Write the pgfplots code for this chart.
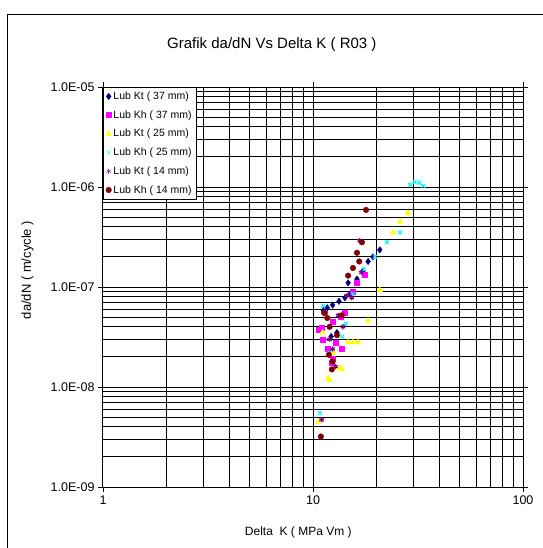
\documentclass[border=0pt]{standalone}
\usepackage{fontspec}
\setmainfont{Liberation Sans}
\usepackage{pgfplots}
\pgfplotsset{compat=1.18}

\definecolor{xlnavy}{RGB}{0,0,128}
\definecolor{xlmag}{RGB}{255,0,255}
\definecolor{xlyel}{RGB}{255,255,0}
\definecolor{xlcyan}{RGB}{0,255,255}
\definecolor{xlpurp}{RGB}{128,0,128}
\definecolor{xlred}{RGB}{128,0,0}

\begin{document}
\begin{tikzpicture}[x=1pt,y=1pt]
\path[use as bounding box] (-103,-61) rectangle (439,487);
\draw[line width=1pt] (-95,-80) rectangle (460,472);
\begin{axis}[
    at={(0,0)}, anchor=south west,
    scale only axis,
    width=420pt, height=400pt,
    xmode=log, ymode=log,
    xmin=1, xmax=100, ymin=1e-9, ymax=1e-5,
    xtick={1,10,100}, xticklabels={1,10,100},
    ytick={1e-9,1e-8,1e-7,1e-6,1e-5},
    yticklabels={1.0E-09,1.0E-08,1.0E-07,1.0E-06,1.0E-05},
    /pgf/number format/assume math mode=true,
    ticklabel style={font=\fontsize{12.5}{14}\selectfont},
    tick align=outside, major tick length=5pt, minor tick length=0pt,
    tick style={black, line width=0.8pt},
    grid=both,
    major grid style={black, line width=1pt},
    minor grid style={black, line width=1pt},
    axis line style={black, line width=1pt},
    title={Grafik da/dN Vs Delta K ( R03 )},
    title style={at={(rel axis cs:0.402,1.09)}, anchor=center, font=\fontsize{15}{17}\selectfont},
    xlabel={Delta\ \ K ( MPa Vm )},
    xlabel style={at={(rel axis cs:0.465,-0.1125)}, anchor=center, font=\fontsize{12}{14}\selectfont},
    ylabel={da/dN ( m/cycle )},
    ylabel style={at={(rel axis cs:-0.18,0.5425)}, anchor=center, rotate=0, font=\fontsize{13}{15}\selectfont},
    legend style={at={(0,1)}, anchor=north west, draw=black, line width=0.8pt, fill=white,
        font=\fontsize{10.5}{12}\selectfont, row sep=5.6pt, inner sep=2.5pt},
    legend cell align=left,
    legend image post style={line width=0.4pt},
]
% Lub Kt (37 mm)
\addplot[only marks, mark=diamond*, mark size=3.2pt, color=xlnavy] coordinates {
(20.8,2.35e-7) (19.3,2.0e-7) (18.3,1.8e-7) (17.3,1.45e-7) (16.2,1.2e-7) (14.7,1.1e-7)
(14.2,7.8e-8) (13.3,7.2e-8) (12.4,6.6e-8) (11.7,6.2e-8) (11.2,5.8e-8) (13.0,3.5e-8)
(12.2,3.2e-8) (15.0,8.5e-8)
};
% Lub Kh (37 mm)
\addplot[only marks, mark=square*, mark size=2.5pt, color=xlmag] coordinates {
(17.7,1.32e-7) (16.2,1.1e-7) (15.5,9e-8) (14.2,5.5e-8) (13.5,5.0e-8) (12.4,4.5e-8)
(11.0,3.9e-8) (11.1,3.0e-8) (11.8,2.4e-8) (13.7,2.4e-8) (12.4,1.9e-8) (12.3,1.75e-8)
(12.8,2.8e-8) (10.7,3.7e-8)
};
% Lub Kt (25 mm)
\addplot[only marks, mark=triangle*, mark size=3.2pt, color=xlyel] coordinates {
(28.3,5.5e-7) (26,4.5e-7) (24,3.5e-7) (20.8,9.3e-8) (18.3,4.6e-8) (14.7,2.8e-8)
(15.5,2.8e-8) (16.4,2.8e-8) (11.1,3.5e-8) (11.8,1.23e-8) (13.4,1.55e-8) (12.0,1.17e-8)
(13.7,1.5e-8) (10.6,4.5e-9) (12.5,2.2e-8)
};
% Lub Kh (25 mm)
\addplot[only marks, mark=x, mark size=2.6pt, line width=1.2pt, color=xlcyan] coordinates {
(29,1.05e-6) (30.5,1.12e-6) (32,1.1e-6) (33.5,1.03e-6) (26,3.5e-7) (22.5,2.8e-7)
(19.7,2.0e-7) (17.5,1.5e-7) (15.5,8.5e-8) (11.2,6.5e-8) (13.8,3.2e-8) (14.3,4.3e-8)
(12.0,2.2e-8) (10.8,5.5e-9)
};
% Lub Kt (14 mm)
\addplot[only marks, mark=asterisk, mark size=2.6pt, line width=1.2pt, color=xlpurp] coordinates {
(16.7,2.9e-7) (17.0,1.4e-7) (15.3,7.8e-8) (14.5,8.2e-8) (13.9,4.0e-8) (12.4,2.4e-8)
(12.0,3.0e-8) (11.0,4.7e-9) (13.2,5.2e-8) (11.5,5.5e-8) (12.8,1.6e-8)
};
% Lub Kh (14 mm)
\addplot[only marks, mark=*, mark size=2.8pt, color=xlred] coordinates {
(17.9,5.9e-7) (17.1,2.8e-7) (16.2,2.2e-7) (16.6,1.8e-7) (15.5,1.55e-7) (14.7,1.3e-7)
(11.7,4.9e-8) (13.7,5.2e-8) (12.0,4.0e-8) (12.4,1.8e-8) (12.3,1.5e-8) (11.9,2.1e-8)
(10.9,3.2e-9) (11.3,5.5e-8) (13.0,3.3e-8)
};
\legend{Lub Kt ( 37 mm),Lub Kh ( 37 mm),Lub Kt ( 25 mm),Lub Kh ( 25 mm),Lub Kt ( 14 mm),Lub Kh ( 14 mm)}
\end{axis}
\end{tikzpicture}
\end{document}
